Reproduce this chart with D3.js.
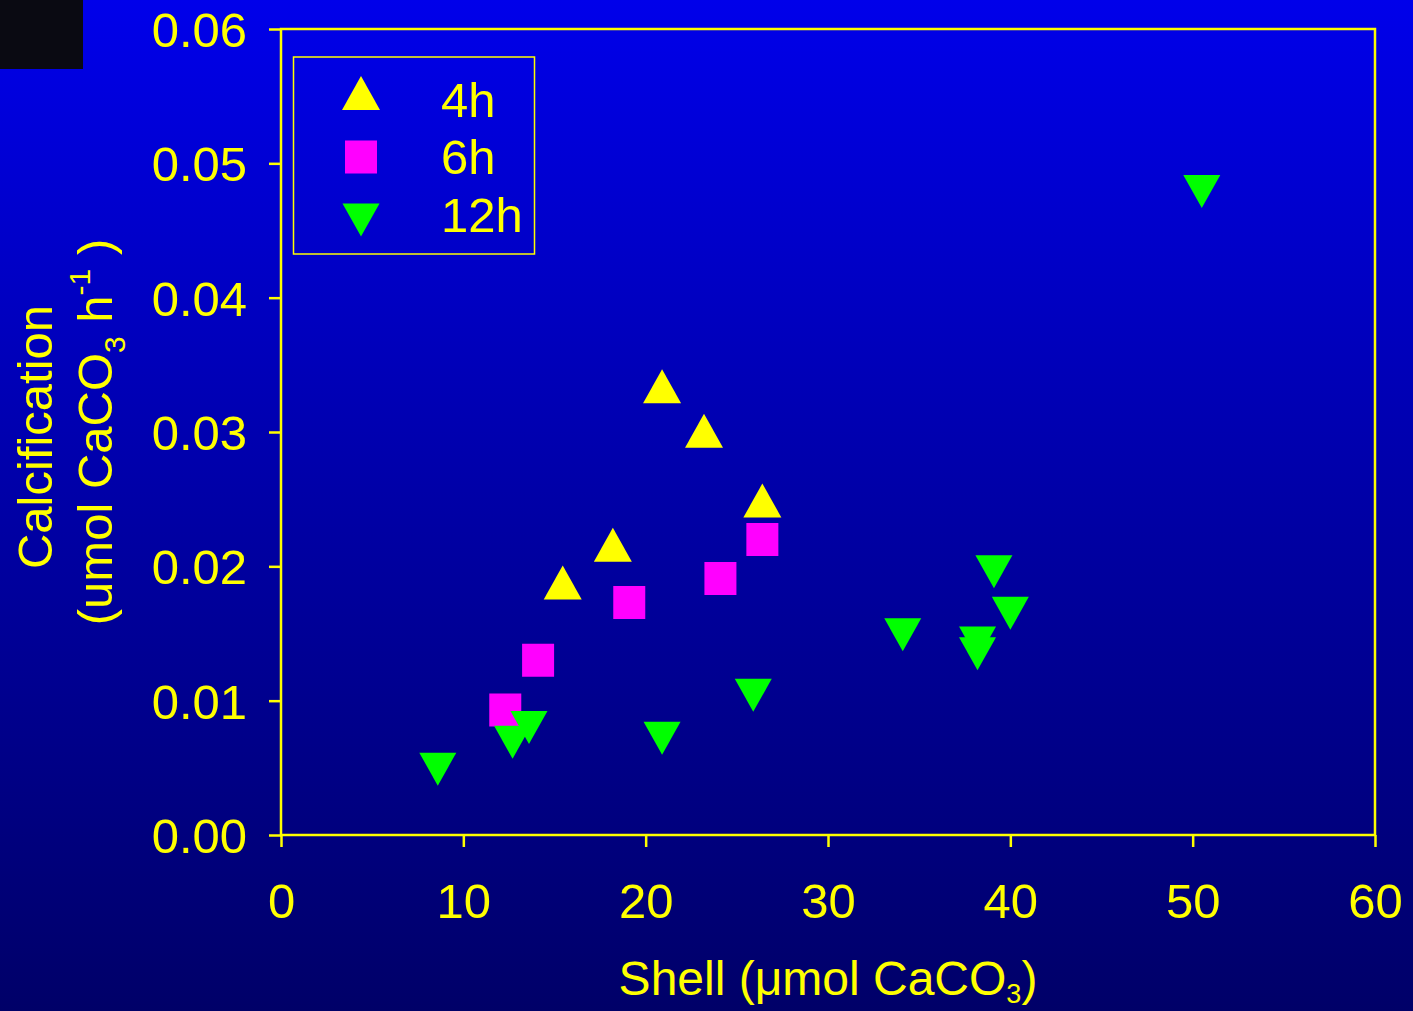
<!DOCTYPE html>
<html>
<head>
<meta charset="utf-8">
<script src="https://cdn.jsdelivr.net/npm/d3@7/dist/d3.min.js"></script>
<style>
  html, body { margin: 0; padding: 0; background: #00006c; }
  svg { display: block; }
  text { font-family: "Liberation Sans", Arial, sans-serif; fill: #ffff00; }
</style>
</head>
<body>
<svg id="chart" width="1413" height="1011"></svg>
<script>
// Shell content (µmol CaCO3) vs calcification rate, by incubation time
const series = ["4h", "6h", "12h"];

const shell4h = [20.9, 23.2, 26.4, 18.2, 15.45];
const calc4h  = [0.0334, 0.0301, 0.0249, 0.0216, 0.0188];

const shell6h = [26.4, 24.1, 19.1, 14.1, 12.3];
const calc6h  = [0.0220, 0.0191, 0.0173, 0.0130, 0.0093];

const shell12h = [8.6, 12.7, 13.6, 20.9, 25.9, 39.1, 40.0, 34.1, 38.2, 38.2, 50.5];
const calc12h  = [0.0049, 0.0069, 0.0080, 0.0072, 0.0104, 0.0196, 0.0165, 0.0149, 0.0143, 0.0135, 0.0479];

const xTicks = [0, 10, 20, 30, 40, 50, 60];
const yTicks = [0, 0.01, 0.02, 0.03, 0.04, 0.05, 0.06];

const YELLOW = "#ffff00", MAGENTA = "#ff00ff", GREEN = "#00ff00";

const svg = d3.select("#chart");
const W = 1413, H = 1011;
const margin = { left: 281, right: 38, top: 29, bottom: 176 };

// background gradient, bright blue fading to navy
const defs = svg.append("defs");
const grad = defs.append("linearGradient").attr("id", "bg")
  .attr("x1", 0).attr("y1", 0).attr("x2", 0).attr("y2", 1);
grad.append("stop").attr("offset", "0%").attr("stop-color", "#0000ea");
grad.append("stop").attr("offset", "50%").attr("stop-color", "#0000a6");
grad.append("stop").attr("offset", "100%").attr("stop-color", "#000068");
svg.append("rect").attr("width", W).attr("height", H).attr("fill", "url(#bg)");

// dark block in the upper-left corner
svg.append("rect").attr("x", 0).attr("y", 0).attr("width", 83).attr("height", 69)
  .attr("fill", "#0a0a12");

const x = d3.scaleLinear().domain([0, 60]).range([margin.left, W - margin.right]);
const y = d3.scaleLinear().domain([0, 0.06]).range([H - margin.bottom, margin.top]);

const FS = 49;

// plot frame
svg.append("rect")
  .attr("x", x(0)).attr("y", y(0.06))
  .attr("width", x(60) - x(0)).attr("height", y(0) - y(0.06))
  .attr("fill", "none").attr("stroke", YELLOW).attr("stroke-width", 2.5);

// x axis
const gx = svg.append("g").attr("transform", `translate(0,${y(0)})`)
  .call(d3.axisBottom(x).tickValues(xTicks).tickFormat(d3.format("d"))
    .tickSize(12).tickSizeOuter(0));
gx.select(".domain").remove();
gx.selectAll(".tick line").attr("stroke", YELLOW).attr("stroke-width", 2.5);
gx.selectAll(".tick text").attr("fill", YELLOW).attr("font-size", FS)
  .attr("font-family", "Liberation Sans, Arial, sans-serif")
  .attr("y", 83).attr("dy", 0);

// y axis
const gy = svg.append("g").attr("transform", `translate(${x(0)},0)`)
  .call(d3.axisLeft(y).tickValues(yTicks).tickFormat(d3.format(".2f"))
    .tickSize(12).tickSizeOuter(0));
gy.select(".domain").remove();
gy.selectAll(".tick line").attr("stroke", YELLOW).attr("stroke-width", 2.5);
gy.selectAll(".tick text").attr("fill", YELLOW).attr("font-size", FS)
  .attr("font-family", "Liberation Sans, Arial, sans-serif")
  .attr("x", -34).attr("dy", "0.36em");

// x axis title
const xt = svg.append("text").attr("x", (x(0) + x(60)) / 2).attr("y", 995)
  .attr("text-anchor", "middle").attr("font-size", 48);
xt.append("tspan").text("Shell (\u03bcmol CaCO");
xt.append("tspan").attr("font-size", 27).attr("dy", 8).text("3");
xt.append("tspan").attr("dy", -8).text(")");

// y axis title (two lines)
svg.append("text").attr("transform", "translate(52,437) rotate(-90)")
  .attr("text-anchor", "middle").attr("font-size", FS).text("Calcification");
const yt2 = svg.append("text").attr("transform", "translate(112,432) rotate(-90)")
  .attr("text-anchor", "middle").attr("font-size", FS);
yt2.append("tspan").text("(umol CaCO");
yt2.append("tspan").attr("font-size", 30).attr("dy", 13).text("3");
yt2.append("tspan").attr("dy", -13).text(" h");
yt2.append("tspan").attr("font-size", 30).attr("dy", -22).text("-1");
yt2.append("tspan").attr("dy", 22).text(" )");

// marker shapes, centred on their bounding box
const triUp   = "M0,-17L19,17L-19,17Z";
const triDown = "M-18.5,-16.5L18.5,-16.5L0,16.5Z";
const square  = "M-16,-16.5H16V16.5H-16Z";

const plot = svg.append("g");
function drawSeries(xs, ys, path, color) {
  plot.append("g").selectAll("path")
    .data(xs.map((v, i) => [v, ys[i]]))
    .join("path")
    .attr("d", path)
    .attr("transform", d => `translate(${x(d[0])},${y(d[1])})`)
    .attr("fill", color);
}
drawSeries(shell4h, calc4h, triUp, YELLOW);
drawSeries(shell6h, calc6h, square, MAGENTA);
drawSeries(shell12h, calc12h, triDown, GREEN);

// legend
const lg = svg.append("g");
lg.append("rect").attr("x", 293.5).attr("y", 57).attr("width", 241).attr("height", 197)
  .attr("fill", "none").attr("stroke", YELLOW).attr("stroke-width", 1.5);
const legendItems = [
  { label: series[0], path: triUp, color: YELLOW, cy: 93, ty: 117 },
  { label: series[1], path: square, color: MAGENTA, cy: 157, ty: 174 },
  { label: series[2], path: triDown, color: GREEN, cy: 220, ty: 232 }
];
legendItems.forEach(it => {
  lg.append("path").attr("d", it.path).attr("fill", it.color)
    .attr("transform", `translate(361,${it.cy})`);
  lg.append("text").attr("x", 441).attr("y", it.ty).attr("font-size", FS).text(it.label);
});
</script>
</body>
</html>
